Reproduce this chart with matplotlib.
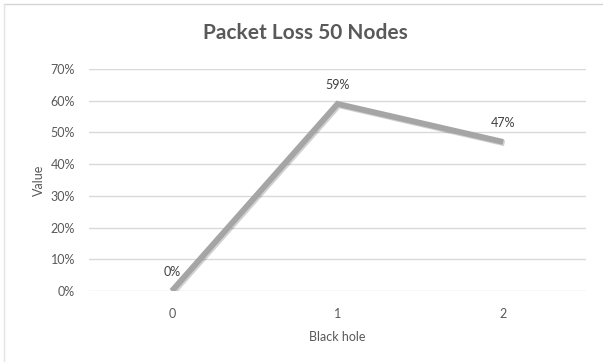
import matplotlib.pyplot as plt
import matplotlib.patheffects as pe
from matplotlib.lines import Line2D

# packet loss per black hole count
black_holes = [0, 1, 2]
packet_loss = [0.0, 0.59, 0.47]
loss_labels = ['0%', '59%', '47%']
y_ticks = [0.0, 0.1, 0.2, 0.3, 0.4, 0.5, 0.6, 0.7]

plt.rcParams['font.family'] = ['Lato', 'DejaVu Sans']
text_gray = '#595959'

fig = plt.figure(figsize=(6.03, 3.62), dpi=100)
ax = fig.add_axes([89 / 603, 1 - 291 / 362, (586 - 89) / 603, (291 - 69) / 362])

ax.plot(black_holes, packet_loss, color='#a5a5a5', linewidth=4.2, solid_capstyle='butt',
        solid_joinstyle='miter',
        path_effects=[pe.SimpleLineShadow(offset=(1, -1), shadow_color='#000000', alpha=0.18),
                      pe.Normal()])

for x, y, lab in zip(black_holes, packet_loss, loss_labels):
    ax.annotate(lab, (x, y), xytext=(0, 9), textcoords='offset points',
                ha='center', va='bottom', fontsize=9, color='#404040')

ax.set_xlim(-0.5, 2.5)
ax.set_ylim(0, 0.7)
ax.set_xticks(black_holes)
ax.set_xticklabels([str(b) for b in black_holes])
ax.set_yticks(y_ticks)
ax.set_yticklabels(['{:.0f}%'.format(t * 100) for t in y_ticks])
ax.tick_params(length=0, labelsize=9, labelcolor=text_gray, pad=12)
ax.tick_params(axis='y', pad=10)
ax.grid(axis='y', color='#d9d9d9', linewidth=1)
ax.set_axisbelow(True)
for s in ax.spines.values():
    s.set_visible(False)

ax.set_xlabel('Black hole', fontsize=9, color=text_gray, labelpad=8)
ax.set_ylabel('Value', fontsize=9, color=text_gray, labelpad=4)

fig.text(305 / 603, 1 - 33 / 362, 'Packet Loss 50 Nodes', ha='center', va='center',
         fontsize=15, fontweight='bold', color=text_gray)

# sheet edge lines
fig.add_artist(Line2D([4 / 603, 1], [1 - 4 / 362, 1 - 4 / 362], color='#d4d4d4', linewidth=1))
fig.add_artist(Line2D([4 / 603, 4 / 603], [0, 1 - 4 / 362], color='#e4e4e4', linewidth=1))

fig.savefig('out.png', dpi=100)
